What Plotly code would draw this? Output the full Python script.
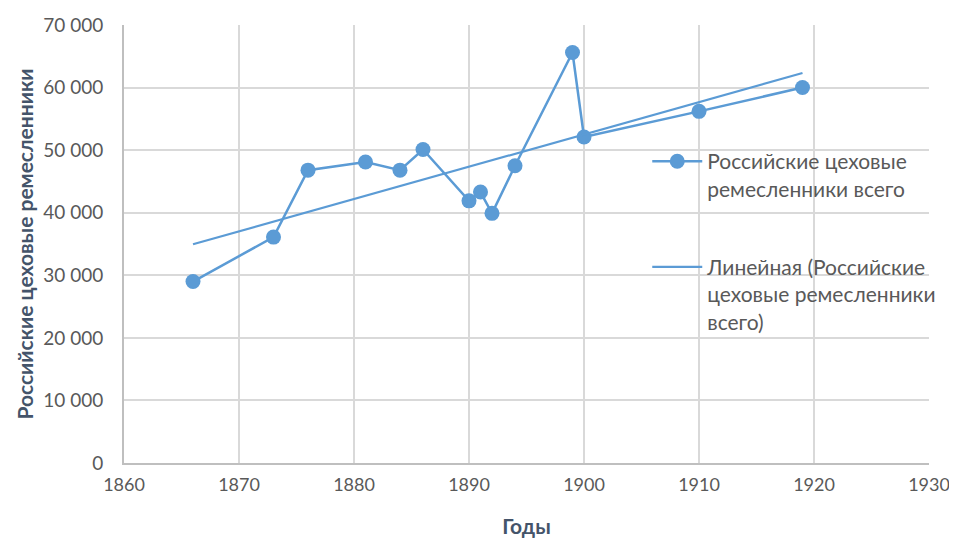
import numpy as np
import plotly.graph_objects as go

years = [1866, 1873, 1876, 1881, 1884, 1886, 1890, 1891, 1892, 1894, 1899, 1900, 1910, 1919]
values = [29000, 36100, 46800, 48100, 46800, 50100, 41900, 43300, 39900, 47500, 65600, 52100, 56200, 60000]
series_name = "Российские цеховые<br>ремесленники всего"
trend_name = "Линейная (Российские<br>цеховые ремесленники<br>всего)"

slope, intercept = np.polyfit(years, values, 1)
trend_x = [min(years), max(years)]
trend_y = [slope * x + intercept for x in trend_x]

color = "#5B9BD5"
font_family = "Lato, 'Open Sans', sans-serif"
tick_color = "#595959"
title_color = "#44546A"

fig = go.Figure()
fig.add_trace(go.Scatter(
    x=years, y=values, mode="lines+markers", name=series_name,
    line=dict(color=color, width=2.5), marker=dict(size=15, color=color),
    legendgroup="a",
))
fig.add_trace(go.Scatter(
    x=trend_x, y=trend_y, mode="lines", name=trend_name,
    line=dict(color=color, width=2.2),
    legendgroup="b",
))

fig.update_layout(
    width=949, height=532,
    margin=dict(l=116, r=28, t=17, b=77),
    plot_bgcolor="white", paper_bgcolor="white",
    separators=", ",
    font=dict(family=font_family, size=19, color=tick_color),
    legend=dict(
        x=0.65, y=0.735, xanchor="left", yanchor="top",
        font=dict(size=21, color=tick_color),
        itemwidth=50, tracegroupgap=48, traceorder="grouped",
        valign="top",
        bgcolor="rgba(0,0,0,0)",
    ),
    xaxis=dict(
        range=[1860, 1930], dtick=10, tick0=1860, automargin=False,
        showgrid=True, gridcolor="#D9D9D9", gridwidth=1.8,
        showline=True, linecolor="#BFBFBF", linewidth=1.8,
        zeroline=False, ticks="", ticklen=0, ticklabelstandoff=4,
        tickfont=dict(size=18, color=tick_color),
        title=dict(text="<b>Годы</b>", font=dict(size=21, color=title_color), standoff=26),
    ),
    yaxis=dict(
        range=[0, 70000], dtick=10000, tickformat=",d", automargin=False,
        showgrid=True, gridcolor="#D9D9D9", gridwidth=1.8,
        showline=True, linecolor="#BFBFBF", linewidth=1.8,
        zeroline=False, ticks="", ticklabelstandoff=15,
        tickfont=dict(size=19, color=tick_color),
        title=dict(text="<b>Российские цеховые ремесленники</b>", font=dict(size=21, color=title_color), standoff=4),
    ),
)

fig.write_html("out.html")
